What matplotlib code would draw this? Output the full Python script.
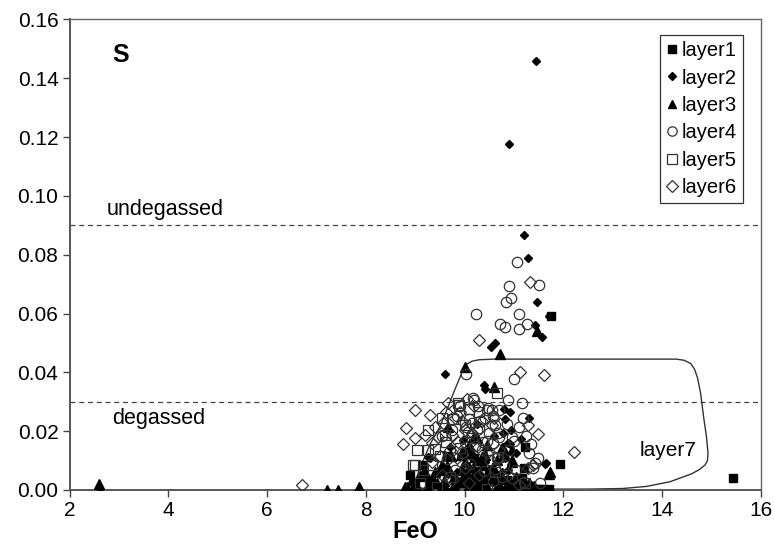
import matplotlib.pyplot as plt

plt.rcParams['font.family'] = ['Liberation Sans', 'DejaVu Sans']

# layer 1 - filled squares
l1_x = [8.9, 9.0, 9.3, 9.55, 9.65, 9.8, 10.0, 10.2, 10.3, 10.5, 10.67, 10.7, 10.8, 10.85,
        11.0, 11.1, 11.16, 11.22, 11.2, 11.35, 11.5, 11.52, 11.71, 11.93, 11.75, 15.44,
        9.15, 10.95, 10.4]
l1_y = [0.005, 0.0015, 0.003, 0.0065, 0.0115, 0.002, 0.0045, 0.011, 0.0008, 0.006, 0.004, 0.0044,
        0.0115, 0.0035, 0.0005, 0.004, 0.004, 0.0145, 0.0075, 0.0012, 0.0003, 0.0003, 0.0003, 0.009,
        0.0593, 0.0042, 0.0085, 0.0015, 0.0035]

# layer 2 - filled diamonds
l2_x = [11.44, 10.91, 11.21, 11.29, 11.46, 11.72, 11.43, 11.56, 10.61, 10.53, 9.6, 10.4, 10.42,
        10.8, 11.3, 10.82, 10.78, 10.88, 11.63, 10.82, 10.75, 11.3, 11.65, 10.92, 10.92, 10.41,
        10.88, 10.41, 9.3, 9.97, 10.78, 10.68, 9.26, 10.05, 10.25, 10.6, 9.85, 11.05, 10.15,
        10.2, 10.95, 9.7, 11.15]
l2_y = [0.146, 0.1176, 0.0868, 0.079, 0.064, 0.0593, 0.056, 0.052, 0.050, 0.0485, 0.0395, 0.0356,
        0.0345, 0.0275, 0.0245, 0.024, 0.0194, 0.016, 0.0088, 0.0109, 0.0061, 0.0024, 0.0092,
        0.0266, 0.0157, 0.0095, 0.0068, 0.0102, 0.011, 0.017, 0.0034, 0.0, 0.0112, 0.0135, 0.0225,
        0.0185, 0.006, 0.0125, 0.0030, 0.0072, 0.0205, 0.0145, 0.0175]

# layer 3 - filled triangles
l3_x = [2.6, 2.62, 7.22, 7.44, 7.87, 10.0, 10.71, 11.47, 10.6,
        10.78, 10.96, 10.96, 11.71, 11.73, 10.15, 10.35, 10.1, 9.95, 10.5, 9.68, 9.54, 9.14,
        8.93, 8.83, 9.03, 9.24, 9.6, 10.07, 10.25, 10.45, 10.65, 9.36, 9.9, 10.25, 10.65, 10.2,
        9.66, 10.45, 10.1, 10.25, 10.25, 10.75, 10.97, 10.2, 9.09, 9.4, 9.64, 9.86, 8.79,
        9.45, 9.78, 10.0, 10.32, 10.55, 10.85, 11.05, 11.2, 9.2, 9.5, 9.82, 10.4, 10.05, 10.6,
        10.88, 11.4, 9.72, 10.18, 10.38, 9.95, 10.7, 9.3, 9.58, 9.92, 10.12, 10.42, 10.58,
        10.9, 9.75, 10.28, 11.1]
l3_y = [0.002, 0.0, 0.0, 0.0, 0.001, 0.0417, 0.0464, 0.054, 0.035,
        0.0143, 0.0136, 0.0102, 0.0054, 0.006, 0.0126, 0.0112, 0.0078, 0.0068, 0.0068, 0.0061,
        0.0085, 0.005, 0.0034, 0.001, 0.001, 0.001, 0.001, 0.001, 0.001, 0.001, 0.001, 0.0034,
        0.0027, 0.0027, 0.0102, 0.018, 0.0215, 0.0153, 0.0153, 0.0177, 0.0102, 0.0143, 0.0095,
        0.0017, 0.0048, 0.006, 0.0082, 0.0027, 0.001, 0.0025, 0.0045, 0.0095, 0.0055, 0.0035,
        0.0018, 0.0045, 0.0009, 0.0062, 0.0, 0.0, 0.0, 0.0032, 0.0058, 0.0005, 0.0012, 0.0115,
        0.0048, 0.0085, 0.013, 0.0022, 0.0, 0.0032, 0.0118, 0.0042, 0.0118, 0.0078, 0.0005,
        0.0005, 0.0065, 0.0025]

# layer 4 - open circles
l4_x = [11.07, 11.5, 10.91, 10.95, 10.83, 10.23, 11.11, 10.71, 10.81, 11.11, 11.27, 10.02, 11.01,
        10.2, 10.45, 10.57, 10.7, 10.15, 10.3, 10.5, 10.07, 10.7, 10.57, 10.96, 10.55, 11.16,
        11.18, 10.61, 10.65, 11.48, 11.38, 11.52, 11.05, 10.47, 10.17, 10.41, 10.03, 10.37,
        10.25, 10.51, 11.42, 10.97, 10.1, 10.0, 9.75, 9.85, 10.35, 10.85, 10.9, 11.25, 11.3,
        10.62, 9.95, 10.12, 10.4, 10.75, 11.0, 11.35, 10.28, 9.9, 10.58, 10.8, 11.1, 10.45,
        9.65, 9.8, 10.22, 10.68, 11.2, 9.55, 10.88, 10.32]
l4_y = [0.0776, 0.0698, 0.0695, 0.0654, 0.064, 0.060, 0.060, 0.0563, 0.0553, 0.0546, 0.0566,
        0.0393, 0.0376, 0.0306, 0.0272, 0.025, 0.0272, 0.0228, 0.021, 0.0194, 0.0198, 0.018,
        0.016, 0.018, 0.0272, 0.0296, 0.0245, 0.0221, 0.0109, 0.0109, 0.0075, 0.0024, 0.0068,
        0.028, 0.0313, 0.0245, 0.0214, 0.0163, 0.0204, 0.0102, 0.0092, 0.004, 0.024, 0.0163,
        0.0205, 0.025, 0.0135, 0.0225, 0.0135, 0.0185, 0.0125, 0.0072, 0.0125, 0.0088, 0.0065,
        0.0045, 0.0165, 0.0155, 0.0285, 0.0285, 0.0032, 0.0085, 0.0215, 0.0165,
        0.0105, 0.0068, 0.0148, 0.0195, 0.0028, 0.0185, 0.0305, 0.0235]

# layer 5 - open squares
l5_x = [10.65, 9.88, 9.62, 9.03, 9.4, 10.15, 9.34, 8.95, 9.86, 9.76, 9.9, 9.26, 8.99, 9.16,
        10.68, 9.44, 9.6, 10.61, 11.22, 9.55, 10.0, 10.3, 9.1, 9.7, 10.45, 9.25, 9.5, 10.1]
l5_y = [0.033, 0.029, 0.0163, 0.0136, 0.014, 0.0177, 0.0085, 0.0085, 0.0296, 0.024, 0.0143,
        0.0136, 0.0085, 0.0068, 0.0112, 0.001, 0.0187, 0.0061, 0.0024, 0.0245, 0.022, 0.0265,
        0.0025, 0.0045, 0.0005, 0.0205, 0.0115, 0.0275]

# layer 6 - open diamonds
l6_x = [9.0, 9.3, 8.81, 9.0, 8.75, 11.48, 12.21, 6.70, 10.29, 11.33, 11.13, 11.6,
        10.05, 9.66, 9.8, 9.56, 9.74, 9.86, 9.46, 9.34, 9.2, 9.7, 9.84, 10.0, 10.27, 10.45,
        10.55, 10.3, 10.1, 9.74, 10.88, 11.28, 11.28, 11.11, 11.38, 9.5, 9.9, 10.35, 10.7,
        9.55, 10.2, 9.35, 10.0, 10.6, 9.62, 9.95, 10.15, 9.4]
l6_y = [0.0272, 0.0255, 0.021, 0.0177, 0.0157, 0.019, 0.0128, 0.0017, 0.051, 0.0708, 0.040, 0.039,
        0.031, 0.0296, 0.0245, 0.0228, 0.0187, 0.0163, 0.018, 0.016, 0.0187, 0.0136, 0.0109,
        0.0204, 0.0146, 0.0126, 0.0221, 0.005, 0.0024, 0.0034, 0.005, 0.0221, 0.0075, 0.0017,
        0.0085, 0.0115, 0.0265, 0.0235, 0.0135, 0.005, 0.0285, 0.0095, 0.0075, 0.0245,
        0.0265, 0.0235, 0.0195, 0.0215]

# layer 7 outline
l7_x = [9.0, 9.1, 9.3, 9.5, 9.66, 9.8, 9.9, 9.97, 10.05, 10.15, 10.3, 10.6, 14.29, 14.45, 14.58,
        14.66, 14.72, 14.78, 14.84, 14.9, 14.93, 14.92, 14.87, 14.76, 14.6, 14.16, 13.68, 13.2,
        12.5, 9.3, 9.05, 9.0]
l7_y = [0.003, 0.0075, 0.0155, 0.0215, 0.028, 0.034, 0.038, 0.041, 0.0428, 0.0438, 0.0443,
        0.0445, 0.0445, 0.0441, 0.043, 0.041, 0.038, 0.033, 0.025, 0.018, 0.0126, 0.010, 0.0085,
        0.007, 0.0055, 0.0028, 0.0012, 0.0005, 0.0003, 0.0003, 0.0008, 0.003]

undegassed = 0.09
degassed = 0.03

fig = plt.figure(figsize=(7.75, 5.46), dpi=100)
ax = fig.add_axes([0.0897, 0.1026, 0.892, 0.8617])

ax.axhline(undegassed, color='#444444', lw=0.9, ls=(0, (4, 3)), zorder=1)
ax.axhline(degassed, color='#444444', lw=0.9, ls=(0, (4, 3)), zorder=1)
ax.plot(l7_x, l7_y, color='#333333', lw=1.0, zorder=2)

ax.plot(l1_x, l1_y, ls='none', marker='s', ms=6, color='black', zorder=3, label='layer1')
ax.plot(l2_x, l2_y, ls='none', marker='D', ms=4.5, color='black', zorder=3, label='layer2')
ax.plot(l3_x, l3_y, ls='none', marker='^', ms=6.5, color='black', zorder=3, label='layer3')
ax.plot(l4_x, l4_y, ls='none', marker='o', ms=7.5, mfc='none', mec='#333333', mew=0.9,
        zorder=3, label='layer4')
ax.plot(l5_x, l5_y, ls='none', marker='s', ms=7.5, mfc='none', mec='#333333', mew=0.9,
        zorder=3, label='layer5')
ax.plot(l6_x, l6_y, ls='none', marker='D', ms=6.5, mfc='none', mec='#333333', mew=0.9,
        zorder=3, label='layer6')

ax.text(2.75, 0.0955, 'undegassed', fontsize=15.5, va='center')
ax.text(2.87, 0.0243, 'degassed', fontsize=15.5, va='center')
ax.text(2.87, 0.148, 'S', fontsize=18, fontweight='bold', va='center')
ax.text(13.55, 0.0133, 'layer7', fontsize=15, va='center')

ax.set_xlim(2, 16)
ax.set_ylim(0, 0.16)
ax.set_xticks(range(2, 17, 2))
ax.set_yticks([i * 0.02 for i in range(9)])
ax.set_yticklabels(['%.2f' % (i * 0.02) for i in range(9)])
ax.tick_params(direction='out', length=5, width=1, labelsize=15, color='#444444', pad=3)
ax.set_xlabel('FeO', fontsize=17, fontweight='bold', labelpad=0)
for s in ['left', 'bottom']:
    ax.spines[s].set_color('#555555')
    ax.spines[s].set_linewidth(1.4)
for s in ['top', 'right']:
    ax.spines[s].set_color('#666666')
    ax.spines[s].set_linewidth(1.0)

leg = ax.legend(loc='upper right', bbox_to_anchor=(0.974, 0.967), borderaxespad=0,
                fontsize=14.5, frameon=True, fancybox=False, edgecolor='black',
                handlelength=0.6, handletextpad=0.2, labelspacing=0.42, borderpad=0.3,
                markerscale=0.9)
leg.get_frame().set_linewidth(0.9)

fig.savefig('out.png', dpi=100)
